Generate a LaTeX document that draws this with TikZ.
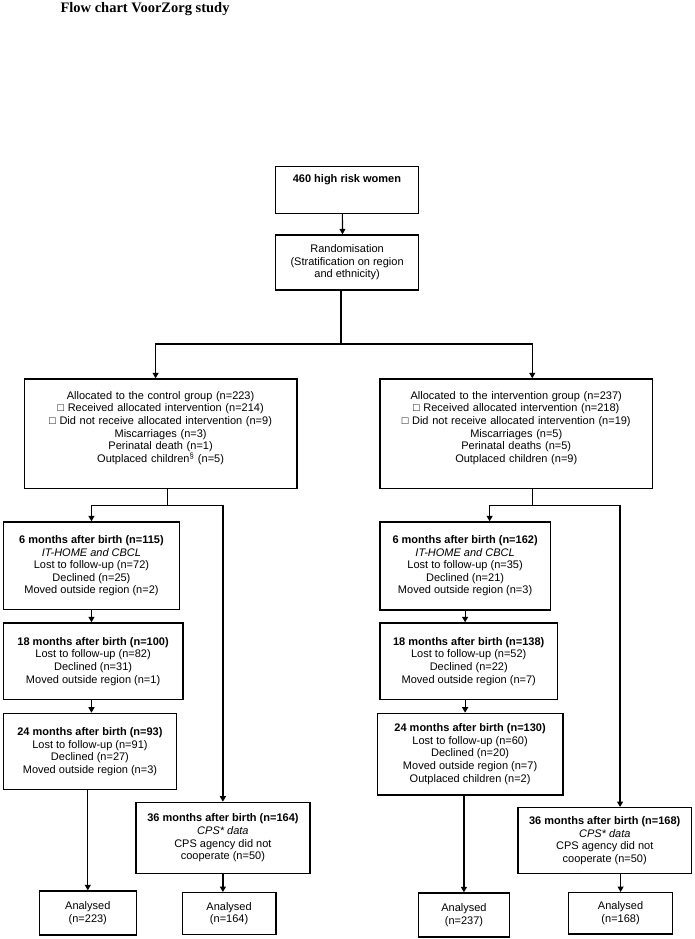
\documentclass[tikz,border=0pt]{standalone}
\usepackage{fontspec}
\setmainfont{Liberation Sans}
\newfontfamily\titlefont{Liberation Serif}
\usetikzlibrary{arrows.meta}

\begin{document}
\begin{tikzpicture}[
  x=1pt, y=-1pt,
  box/.style={rectangle, draw=black, line width=1.2pt, anchor=north west, align=center,
              inner sep=3pt, font=\fontsize{11}{12.6}\selectfont},
  arrow/.style={-{Triangle[length=5.5pt,width=6pt]}, line width=1.2pt},
  link/.style={line width=1.2pt}
]
\useasboundingbox (0,0) rectangle (694,939);
\node[anchor=base west, font=\titlefont\bfseries\fontsize{14.5}{17}\selectfont] (title) at (57,13) {Flow chart VoorZorg study};

\node[box, minimum width=142.7pt, text height=13.3pt, text depth=27.7pt] (top) at (275,165.7) {\textbf{460 high risk women}};
\node[box, minimum width=143pt, minimum height=55pt] (rand) at (275,234.3) {Randomisation\\(Stratification on region\\and ethnicity)};

\node[box, text width=262pt, minimum width=272.6pt, text height=17.4pt, text depth=86pt] (ctrl) at (23.7,378.3)
  {Allocated to the control group (n=223)\\□ Received allocated intervention (n=214)\\□ Did not receive allocated intervention (n=9)\\Miscarriages (n=3)\\Perinatal death (n=1)\\Outplaced children\textsuperscript{§} (n=5)};
\node[box, text width=262pt, minimum width=272.7pt, text height=17.4pt, text depth=86pt] (intv) at (379.3,378.3)
  {Allocated to the intervention group (n=237)\\□ Received allocated intervention (n=218)\\□ Did not receive allocated intervention (n=19)\\Miscarriages (n=5)\\Perinatal deaths (n=5)\\Outplaced children (n=9)};

\node[box, minimum width=176.3pt, minimum height=87.7pt] (c6) at (2.7,521.3)
  {\textbf{6 months after birth (n=115)}\\\textit{IT-HOME and CBCL}\\Lost to follow-up (n=72)\\Declined (n=25)\\Moved outside region (n=2)};
\node[box, minimum width=179.6pt, minimum height=76.7pt] (c18) at (2.7,622.3)
  {\textbf{18 months after birth (n=100)}\\Lost to follow-up (n=82)\\Declined (n=31)\\Moved outside region (n=1)};
\node[box, minimum width=173.3pt, minimum height=76.3pt] (c24) at (2.7,712.7)
  {\textbf{24 months after birth (n=93)}\\Lost to follow-up (n=91)\\Declined (n=27)\\Moved outside region (n=3)};
\node[box, minimum width=174pt, minimum height=71.3pt] (c36) at (135.3,801.7)
  {\textbf{36 months after birth (n=164)}\\\textit{CPS* data}\\CPS agency did not\\cooperate (n=50)};
\node[box, minimum width=97pt, minimum height=44pt] (cA) at (38.7,890.3) {Analysed\\(n=223)};
\node[box, minimum width=93.6pt, minimum height=42pt] (cB) at (181.7,892) {Analysed\\(n=164)};

\node[box, minimum width=170.4pt, minimum height=88pt] (i6) at (379.3,521.3)
  {\textbf{6 months after birth (n=162)}\\\textit{IT-HOME and CBCL}\\Lost to follow-up (n=35)\\Declined (n=21)\\Moved outside region (n=3)};
\node[box, minimum width=177.7pt, minimum height=76.7pt] (i18) at (379.3,622.3)
  {\textbf{18 months after birth (n=138)}\\Lost to follow-up (n=52)\\Declined (n=22)\\Moved outside region (n=7)};
\node[box, minimum width=185.6pt, minimum height=81.6pt] (i24) at (376.7,712.7)
  {\textbf{24 months after birth (n=130)}\\Lost to follow-up (n=60)\\Declined (n=20)\\Moved outside region (n=7)\\Outplaced children (n=2)};
\node[box, minimum width=173.7pt, minimum height=66pt] (i36) at (517.3,807)
  {\textbf{36 months after birth (n=168)}\\\textit{CPS* data}\\CPS agency did not\\cooperate (n=50)};
\node[box, minimum width=91.3pt, minimum height=44pt] (iA) at (417.7,892.3) {Analysed\\(n=237)};
\node[box, minimum width=104pt, minimum height=41.3pt] (iB) at (568,892) {Analysed\\(n=168)};

\coordinate (rsplit) at (341,344);
\coordinate (csplit) at (167.7,505.7);
\coordinate (isplit) at (532.7,505.7);

\draw[arrow] ([xshift=-4.6pt]top.south) -- ([xshift=-4.6pt]rand.north);
\draw[link] (rand.south -| rsplit) -- (rsplit);
\draw[arrow] (rsplit) -| ([xshift=-5pt]ctrl.north);
\draw[arrow] (rsplit) -| ([xshift=16pt]intv.north);

\draw[link] (ctrl.south -| csplit) -- (csplit);
\draw[arrow] (csplit) -| (c6.north);
\draw[arrow] (csplit) -| (c36.north);
\draw[arrow] (c6.south) -- (c6.south |- c18.north);
\draw[arrow] (c18.south -| c6.south) -- (c24.north -| c6.south);
\draw[arrow] (c24.south -| cA.north) -- (cA.north);
\draw[arrow] (c36.south) -- (c36.south |- cB.north);

\draw[link] (intv.south -| isplit) -- (isplit);
\draw[arrow] (isplit) -| ([xshift=24.5pt]i6.north);
\draw[arrow] (isplit) -| ([xshift=15.3pt]i36.north);
\draw[arrow] (i6.south) -- (i6.south |- i18.north);
\draw[arrow] (i18.south -| i6.south) -- (i24.north -| i6.south);
\draw[arrow] (i24.south -| iA.north) -- (iA.north);
\draw[arrow] (i36.south -| iB.north) -- (iB.north);
\end{tikzpicture}
\end{document}
